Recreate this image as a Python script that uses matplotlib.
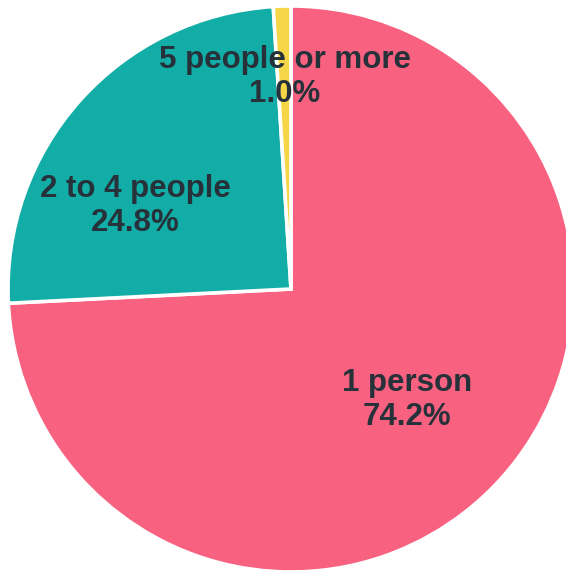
import matplotlib
matplotlib.use("Agg")
import matplotlib.pyplot as plt

categories = ["1 person", "2 to 4 people", "5 people or more"]
values = [74.2, 24.8, 1.0]
colors = ["#F86280", "#12ADA6", "#F5D647"]
label_pos = [(0.41, -0.393), (-0.551, 0.294), (-0.021, 0.75)]

fig = plt.figure(figsize=(5.66, 5.75), dpi=100)
ax = fig.add_axes([0, 0, 1, 1])
wedges, _ = ax.pie(values, colors=colors, startangle=90, counterclock=False,
                   radius=1.0, center=(0, 0),
                   wedgeprops=dict(edgecolor="white", linewidth=2.6))
ax.set_xlim(-291 / 283, (566 - 291) / 283)
ax.set_ylim(-(575 - 289) / 283, 289 / 283)
ax.set_aspect("auto")
ax.axis("off")

for cat, v, (x, y) in zip(categories, values, label_pos):
    ax.text(x, y, f"{cat}\n{v:.1f}%", ha="center", va="center",
            fontsize=22.5, fontweight="bold", color="#26313A",
            family=["Liberation Sans", "DejaVu Sans"], linespacing=1.18)

fig.savefig("out.png", dpi=100)
